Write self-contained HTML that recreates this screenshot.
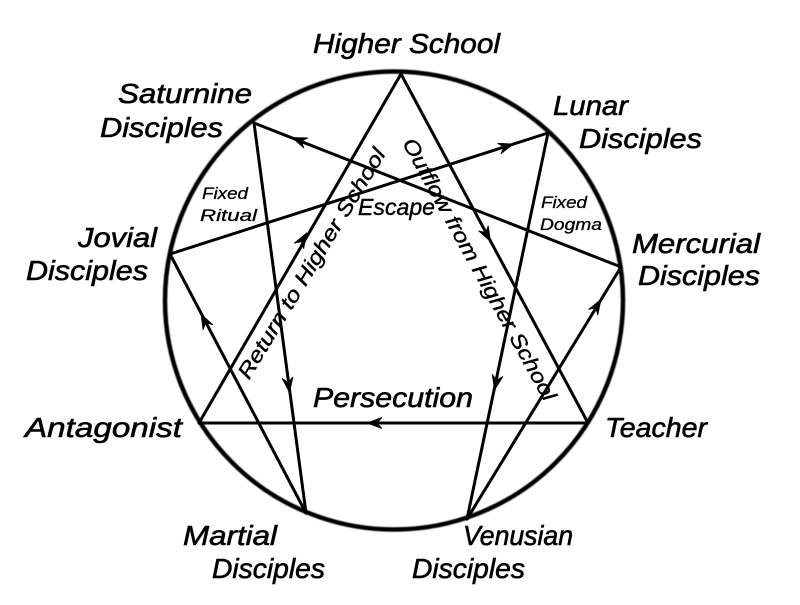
<!DOCTYPE html>
<html>
<head>
<meta charset="utf-8">
<style>
  html, body { margin: 0; padding: 0; background: #fff; }
  body { width: 800px; height: 605px; overflow: hidden; }
  svg { display: block; }
  text { font-family: "Liberation Sans", "DejaVu Sans", sans-serif; font-style: italic; fill: #000; }
  .big { font-size: 28px; stroke: #000; stroke-width: 0.6px; }
  .mid { font-size: 23px; stroke: #000; stroke-width: 0.4px; }
  .rot { font-size: 21px; stroke: #000; stroke-width: 0.4px; }
  .sm { font-size: 17px; stroke: #000; stroke-width: 0.3px; }
</style>
</head>
<body>
<svg width="800" height="605" viewBox="0 0 800 605" xmlns="http://www.w3.org/2000/svg">
  <defs>
    <filter id="soft" x="-5%" y="-5%" width="110%" height="110%">
      <feGaussianBlur stdDeviation="0.6"/>
    </filter>
  </defs>
  <rect width="800" height="605" fill="#fff"/>

  <!-- circle -->
  <circle cx="394" cy="300.5" r="229" fill="none" stroke="#000" stroke-width="4.5" filter="url(#soft)"/>

  <g stroke="#000" stroke-width="3" fill="none" stroke-linecap="round" stroke-linejoin="round">
    <!-- triangle -->
    <line x1="401" y1="74" x2="199" y2="423"/>
    <line x1="401" y1="74" x2="588" y2="423"/>
    <line x1="199" y1="423" x2="588" y2="423"/>
    <!-- hexad -->
    <line x1="254" y1="123" x2="306" y2="513"/>
    <line x1="254" y1="123" x2="621" y2="267"/>
    <line x1="548" y1="133" x2="170" y2="254"/>
    <line x1="548" y1="133" x2="467" y2="519"/>
    <line x1="170" y1="254" x2="306" y2="513"/>
    <line x1="621" y1="267" x2="467" y2="519"/>
  </g>

  <!-- arrowheads -->
  <g fill="#000" stroke="#000" stroke-width="0.8" stroke-linejoin="miter">
    <path d="M0,0 L-15,-5.5 L-10,0 L-15,5.5 Z" transform="translate(306.5,233) rotate(-59.9)"/>
    <path d="M0,0 L-15,-5.5 L-10,0 L-15,5.5 Z" transform="translate(490.5,241.5) rotate(61.8)"/>
    <path d="M0,0 L-15,-5.5 L-10,0 L-15,5.5 Z" transform="translate(367,423) rotate(180)"/>
    <path d="M0,0 L-15,-5.5 L-10,0 L-15,5.5 Z" transform="translate(292,137.5) rotate(-158.5)"/>
    <path d="M0,0 L-15,-5.5 L-10,0 L-15,5.5 Z" transform="translate(513.5,144) rotate(-17.6)"/>
    <path d="M0,0 L-15,-5.5 L-10,0 L-15,5.5 Z" transform="translate(289.5,392.5) rotate(82.4)"/>
    <path d="M0,0 L-15,-5.5 L-10,0 L-15,5.5 Z" transform="translate(494.5,390) rotate(101.8)"/>
    <path d="M0,0 L-15,-5.5 L-10,0 L-15,5.5 Z" transform="translate(201,314) rotate(-117.5)"/>
    <path d="M0,0 L-15,-5.5 L-10,0 L-15,5.5 Z" transform="translate(601,299.5) rotate(-58.4)"/>
  </g>

  <!-- outer labels -->
  <text class="big" x="313" y="53" textLength="187" lengthAdjust="spacingAndGlyphs">Higher School</text>

  <text class="big" x="118" y="103" textLength="134" lengthAdjust="spacingAndGlyphs">Saturnine</text>
  <text class="big" x="100" y="137" textLength="123" lengthAdjust="spacingAndGlyphs">Disciples</text>

  <text class="big" x="553" y="115" textLength="75" lengthAdjust="spacingAndGlyphs">Lunar</text>
  <text class="big" x="579" y="148" textLength="123" lengthAdjust="spacingAndGlyphs">Disciples</text>

  <text class="big" x="632" y="253" textLength="128" lengthAdjust="spacingAndGlyphs">Mercurial</text>
  <text class="big" x="638" y="285" textLength="122" lengthAdjust="spacingAndGlyphs">Disciples</text>

  <text class="big" x="78" y="247" textLength="79" lengthAdjust="spacingAndGlyphs">Jovial</text>
  <text class="big" x="26" y="280" textLength="122" lengthAdjust="spacingAndGlyphs">Disciples</text>

  <text class="big" x="25" y="437" textLength="157" lengthAdjust="spacingAndGlyphs">Antagonist</text>
  <text class="big" x="605" y="437" textLength="102" lengthAdjust="spacingAndGlyphs">Teacher</text>

  <text class="big" x="183" y="545" textLength="94" lengthAdjust="spacingAndGlyphs">Martial</text>
  <text class="big" x="212" y="578" textLength="113" lengthAdjust="spacingAndGlyphs">Disciples</text>

  <text class="big" x="463" y="545" textLength="110" lengthAdjust="spacingAndGlyphs">Venusian</text>
  <text class="big" x="412" y="578" textLength="113" lengthAdjust="spacingAndGlyphs">Disciples</text>

  <!-- inner labels -->
  <text class="big" x="313" y="407" textLength="160" lengthAdjust="spacingAndGlyphs">Persecution</text>
  <text class="mid" x="358" y="215" textLength="77" lengthAdjust="spacingAndGlyphs">Escape</text>

  <text class="sm" x="202" y="199" textLength="46" lengthAdjust="spacingAndGlyphs">Fixed</text>
  <text class="sm" x="200" y="221" textLength="57" lengthAdjust="spacingAndGlyphs">Ritual</text>

  <text class="sm" x="541" y="208" textLength="46" lengthAdjust="spacingAndGlyphs">Fixed</text>
  <text class="sm" x="540" y="230" textLength="62" lengthAdjust="spacingAndGlyphs">Dogma</text>

  <!-- rotated labels -->
  <text class="rot" transform="translate(249,380.5) rotate(-58.8)" x="0" y="0" textLength="265" lengthAdjust="spacingAndGlyphs">Return to Higher School</text>
  <text class="rot" transform="translate(402,143) rotate(61.2)" x="0" y="0" textLength="296" lengthAdjust="spacingAndGlyphs">Outflow from Higher School</text>
</svg>
</body>
</html>
